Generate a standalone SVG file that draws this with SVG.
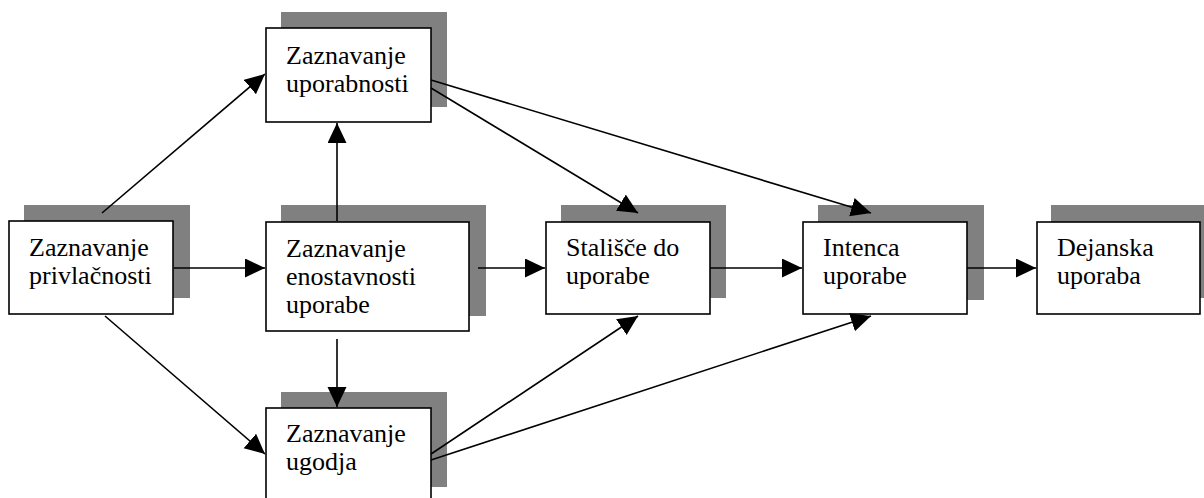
<svg xmlns="http://www.w3.org/2000/svg" width="1204" height="498" viewBox="0 0 1204 498">
<style>
.sh{fill:#808080;stroke:none}
.bx{fill:#fff;stroke:#000;stroke-width:1.6}
.t{font-family:"Liberation Serif","Times New Roman",serif;font-size:26px;fill:#000}
.c line{stroke:#000;stroke-width:1.6;marker-end:url(#ah)}
</style>
<defs>
<marker id="ah" markerUnits="userSpaceOnUse" markerWidth="22" markerHeight="20" refX="20" refY="9.5" orient="auto">
<path d="M0,0 L20,9.5 L0,19 z" fill="#000"/>
</marker>
</defs>
<rect width="1204" height="498" fill="#fff"/>
<g id="nodeA"><rect class="sh" x="24" y="205" width="166" height="93"/><rect class="bx" x="9" y="221" width="164" height="93"/><text class="t" x="29" y="256">Zaznavanje</text><text class="t" x="29" y="284">privlačnosti</text></g>
<g id="nodeB"><rect class="sh" x="281" y="12" width="166" height="95"/><rect class="bx" x="266" y="28" width="165" height="94"/><text class="t" x="286" y="64">Zaznavanje</text><text class="t" x="286" y="92">uporabnosti</text></g>
<g id="nodeC"><rect class="sh" x="281" y="205" width="205" height="111"/><rect class="bx" x="266" y="222" width="203" height="109"/><text class="t" x="286" y="257">Zaznavanje</text><text class="t" x="286" y="285">enostavnosti</text><text class="t" x="286" y="313">uporabe</text></g>
<g id="nodeD"><rect class="sh" x="561" y="205" width="165" height="93"/><rect class="bx" x="546" y="222" width="164" height="92"/><text class="t" x="566" y="256">Stališče do</text><text class="t" x="566" y="284">uporabe</text></g>
<g id="nodeE"><rect class="sh" x="818" y="205" width="166" height="95"/><rect class="bx" x="803" y="222" width="164" height="92"/><text class="t" x="823" y="256">Intenca</text><text class="t" x="823" y="284">uporabe</text></g>
<g id="nodeF"><rect class="sh" x="1051" y="205" width="160" height="93"/><rect class="bx" x="1037" y="222" width="163" height="92"/><text class="t" x="1057" y="256">Dejanska</text><text class="t" x="1057" y="284">uporaba</text></g>
<g id="nodeG"><rect class="sh" x="281" y="392" width="166" height="95"/><rect class="bx" x="266" y="408" width="165" height="94"/><text class="t" x="286" y="442">Zaznavanje</text><text class="t" x="286" y="470">ugodja</text></g>
<g id="connectors" class="c">
<line x1="102" y1="213" x2="265" y2="74"/>
<line x1="174" y1="268" x2="265" y2="268"/>
<line x1="105" y1="316" x2="265" y2="454"/>
<line x1="337" y1="221" x2="337" y2="123"/>
<line x1="337" y1="339" x2="337" y2="407"/>
<line x1="478" y1="268" x2="545" y2="268"/>
<line x1="431" y1="88" x2="638" y2="213"/>
<line x1="431" y1="80" x2="871" y2="213"/>
<line x1="710" y1="268" x2="802" y2="268"/>
<line x1="967" y1="268" x2="1036" y2="268"/>
<line x1="431" y1="454" x2="638" y2="316"/>
<line x1="431" y1="460" x2="871" y2="316"/>
</g>
</svg>
